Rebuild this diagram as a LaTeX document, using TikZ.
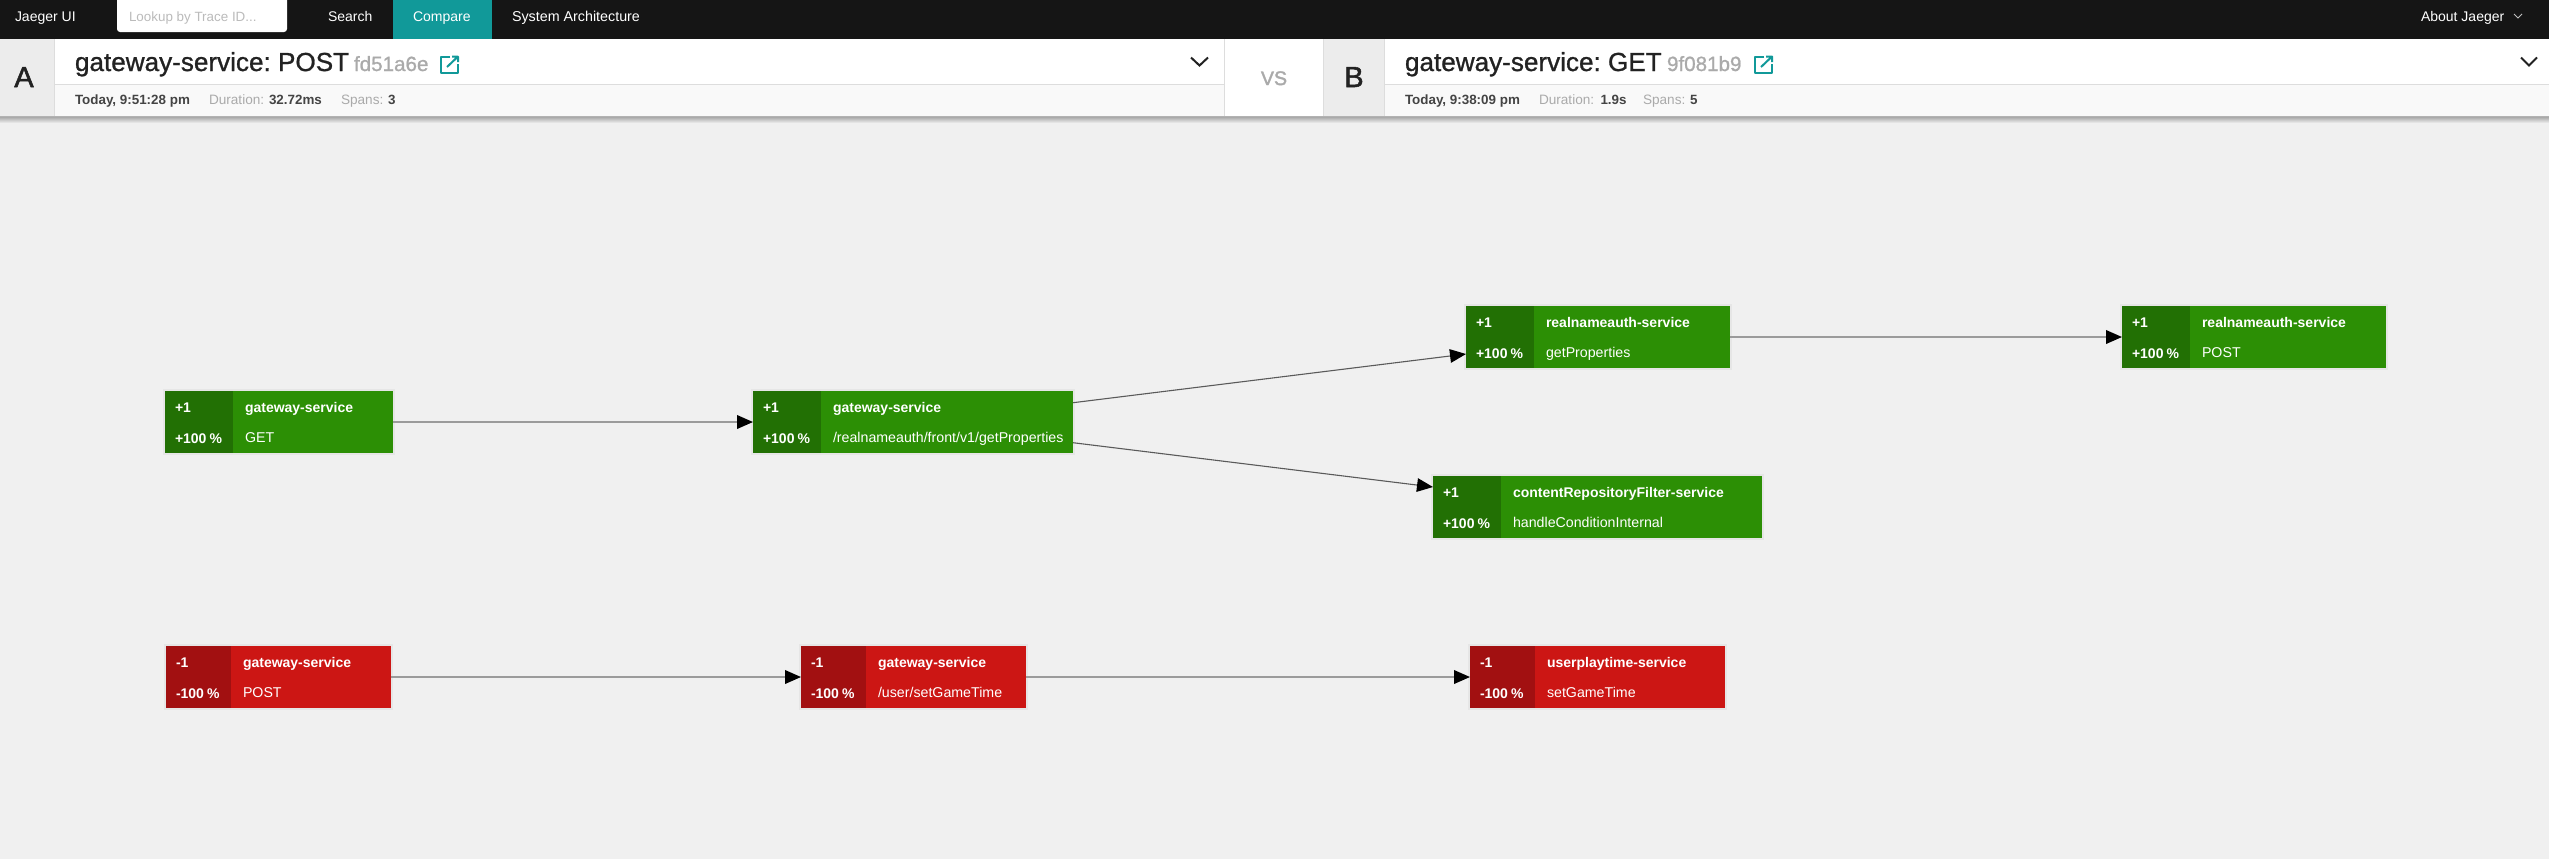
\documentclass[tikz,border=0pt]{standalone}
\usepackage{fontspec}
\setmainfont{Liberation Sans}
\newfontfamily\medfont[FakeBold=1.0]{Liberation Sans}
\newfontfamily\heavyfont[FakeBold=1.8]{Liberation Sans}
\frenchspacing
\usetikzlibrary{arrows.meta,positioning,calc}
\definecolor{barblack}{HTML}{151515}
\definecolor{teal}{HTML}{119999}
\definecolor{pagebg}{HTML}{F0F0F0}
\definecolor{subbg}{HTML}{F9F9F9}
\definecolor{tagbg}{HTML}{ECECEC}
\definecolor{rule}{HTML}{DDDDDD}
\definecolor{greenmain}{HTML}{2C8F05}
\definecolor{greendark}{HTML}{227004}
\definecolor{redmain}{HTML}{CC1614}
\definecolor{reddark}{HTML}{A21011}
\definecolor{mutedtext}{HTML}{AAAAAA}
\definecolor{strongtext}{HTML}{444444}
\definecolor{headtext}{HTML}{222222}
\definecolor{edgeflat}{HTML}{9B9B9B}
\definecolor{edgeslant}{HTML}{5A5A5A}
\definecolor{cardhalo}{HTML}{E6E6E6}
\newcommand{\pxfont}[1]{\fontsize{#1}{#1}\selectfont}
\tikzset{
  x=0.5pt,y=-0.5pt,
  txt/.style={inner sep=0pt,outer sep=0pt,anchor=base west},
  navtxt/.style={txt,text=white,font=\pxfont{7pt}},
  titletxt/.style={txt,text=headtext,font=\medfont\pxfont{13.05pt}},
  hashtxt/.style={txt,text=mutedtext,font=\medfont\pxfont{10.3pt}},
  metastrong/.style={txt,text=strongtext,font=\pxfont{6.7pt}\bfseries},
  metamuted/.style={txt,text=mutedtext,font=\pxfont{6.8pt}},
  tagtxt/.style={inner sep=0pt,anchor=base,text=headtext,font=\heavyfont\pxfont{14.5pt}},
  cardbase/.style={inner sep=0pt,outer sep=0pt,minimum height=31pt,anchor=north west},
  cardtxtb/.style={txt,text=white,font=\pxfont{7pt}\bfseries},
  cardtxt/.style={txt,text=white,font=\pxfont{7.1pt}},
  flat/.style={draw=edgeflat,line width=0.9pt,-{Triangle[length=8pt,width=6.8pt,color=black]}},
  slant/.style={draw=edgeslant,line width=0.55pt,-{Triangle[length=8pt,width=6.8pt,color=black]}},
  icon/.style={draw=teal,line width=1pt,line join=round},
}
% #1 name, #2 left, #3 divider, #4 right, #5 top, #6 main colour, #7 dark colour, #8 delta, #9 pct
\newcommand{\card}[9]{%
  \fill[cardhalo] (#2-2,#5-2) rectangle (#4+2,#5+64);
  \path let \n1={(#4-#2)*0.5pt} in
    node[cardbase,fill=#6,minimum width=\n1] (#1) at (#2,#5) {};
  \path let \n1={(#3-#2)*0.5pt} in
    node[cardbase,fill=#7,minimum width=\n1] (#1d) at (#2,#5) {};
  \node[cardtxtb] (#1a) at (#2+10,#5+21) {#8};
  \node[cardtxtb] (#1b) at (#2+10,#5+52) {#9};
}
\newcommand{\cardlabels}[5]{%
  \node[cardtxtb] (#1n) at (#2,#3+21) {#4};
  \node[cardtxt] (#1o) at (#2,#3+51) {#5};
}
\newcommand{\pct}[1]{#1100\hspace{1.6pt}\%}
\begin{document}
\begin{tikzpicture}
\useasboundingbox (0,0) rectangle (2549,859);
\fill[pagebg] (0,0) rectangle (2549,859);
% top bar
\fill[barblack] (0,0) rectangle (2549,39);
\fill[white,rounded corners=1.5pt] (117,-3) rectangle (287,32);
\fill[teal] (393,0) rectangle (492,39);
\node[navtxt] (nav1) at (15,21) {Jaeger UI};
\node[txt,text=mutedtext!80!white,font=\pxfont{6.7pt}] (nav2) at (129,21) {Lookup by Trace ID...};
\node[navtxt] (nav3) at (328,21) {Search};
\node[navtxt] (nav4) at (413,21) {Compare};
\node[navtxt,font=\pxfont{7.15pt}] (nav5) at (512,21) {System Architecture};
\node[navtxt] (nav6) at (2421,21) {About Jaeger};
\draw[white!75!black,line width=0.4pt] (2514,14) -- (2518,18) -- (2522,14);
% header panel
\shade[top color=black!38,bottom color=pagebg] (0,116) rectangle (2549,123);
\fill[white] (0,39) rectangle (2549,116);
\fill[subbg] (0,84) rectangle (2549,116);
\draw[rule,line width=0.5pt] (0,84) -- (2549,84);
\draw[black!30,line width=0.5pt] (0,116) -- (2549,116);
\fill[tagbg] (0,39) rectangle (54.6,116);
\draw[rule,line width=0.5pt] (54.6,39) -- (54.6,116);
\fill[white] (1224.5,39) rectangle (1323.5,116);
\fill[tagbg] (1323.5,39) rectangle (1384.7,116);
\draw[rule,line width=0.5pt] (1224.5,39) -- (1224.5,116) (1323.5,39) -- (1323.5,116) (1384.7,39) -- (1384.7,116);
\node[tagtxt] (tagA) at (24,87) {A};
\node[tagtxt] (tagB) at (1354,87) {B};
\node[inner sep=0pt,anchor=base,text=mutedtext,font=\heavyfont\pxfont{9.8pt}] (vs) at (1274,85) {VS};
% trace A
\node[titletxt] (ta) at (75,71) {gateway-service: POST};
\node[hashtxt] (ha) at (354,71) {fd51a6e};
\draw[icon] (450,56.5) -- (441,56.5) -- (441,73) -- (458,73) -- (458,64);
\draw[icon] (447,67) -- (458,56.5) (452,56.5) -- (458,56.5) -- (458,62);
\node[metastrong] (a1) at (75,104.5) {Today, 9:51:28 pm};
\node[metamuted] (a2) at (209,104.5) {Duration:};
\node[metastrong] (a3) at (269,104.5) {32.72ms};
\node[metamuted] (a4) at (341,104.5) {Spans:};
\node[metastrong] (a5) at (388,104.5) {3};
\draw[headtext,line width=1pt] (1191,57.5) -- (1199.5,65.5) -- (1208,57.5);
% trace B
\node[titletxt] (tb) at (1405,71) {gateway-service: GET};
\node[hashtxt] (hb) at (1667,71) {9f081b9};
\draw[icon] (1764,56.5) -- (1755,56.5) -- (1755,73) -- (1772,73) -- (1772,64);
\draw[icon] (1761,67) -- (1772,56.5) (1766,56.5) -- (1772,56.5) -- (1772,62);
\node[metastrong] (b1) at (1405,104.5) {Today, 9:38:09 pm};
\node[metamuted] (b2) at (1539,104.5) {Duration:};
\node[metastrong] (b3) at (1600.5,104.5) {1.9s};
\node[metamuted] (b4) at (1643,104.5) {Spans:};
\node[metastrong] (b5) at (1690,104.5) {5};
\draw[headtext,line width=1pt] (2521,57.5) -- (2529,65.5) -- (2537,57.5);
% cards
\card{g1}{165}{233}{393}{391}{greenmain}{greendark}{+1}{\pct{+}}
\cardlabels{g1}{245}{391}{gateway-service}{GET}
\card{g2}{753}{821}{1073}{391}{greenmain}{greendark}{+1}{\pct{+}}
\cardlabels{g2}{833}{391}{gateway-service}{/realnameauth/front/v1/getProperties}
\card{g3}{1466}{1534}{1730}{306}{greenmain}{greendark}{+1}{\pct{+}}
\cardlabels{g3}{1546}{306}{realnameauth-service}{getProperties}
\card{g4}{2122}{2190}{2386}{306}{greenmain}{greendark}{+1}{\pct{+}}
\cardlabels{g4}{2202}{306}{realnameauth-service}{POST}
\card{g5}{1433}{1501}{1762}{476}{greenmain}{greendark}{+1}{\pct{+}}
\cardlabels{g5}{1513}{476}{contentRepositoryFilter-service}{handleConditionInternal}
\card{r1}{166}{231}{391}{646}{redmain}{reddark}{-1}{\pct{-}}
\cardlabels{r1}{243}{646}{gateway-service}{POST}
\card{r2}{801}{866}{1026}{646}{redmain}{reddark}{-1}{\pct{-}}
\cardlabels{r2}{878}{646}{gateway-service}{/user/setGameTime}
\card{r3}{1470}{1535}{1725}{646}{redmain}{reddark}{-1}{\pct{-}}
\cardlabels{r3}{1547}{646}{userplaytime-service}{setGameTime}
% edges
\draw[flat] (g1.east) -- (g2d.west);
\draw[slant] ($(g2.east)+(0,-19.3)$) -- ($(g3d.west)+(0,17)$);
\draw[slant] ($(g2.east)+(0,20.7)$) -- ($(g5d.west)+(0,-20)$);
\draw[flat] (g3.east) -- (g4d.west);
\draw[flat] (r1.east) -- (r2d.west);
\draw[flat] (r2.east) -- (r3d.west);
\end{tikzpicture}
\end{document}
